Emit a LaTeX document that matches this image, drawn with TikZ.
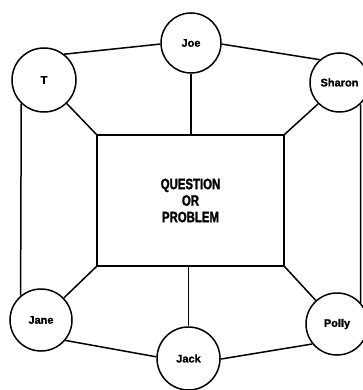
\documentclass[tikz,border=0pt]{standalone}
\usepackage{fontspec}
\setmainfont{Liberation Sans}
\newfontfamily\namefont[FakeBold=1.2]{Liberation Sans Bold}
\newfontfamily\condfont[FakeStretch=0.76,FakeBold=1.5]{Liberation Sans Bold}
\begin{document}
\begin{tikzpicture}[x=1pt,y=-1pt,
  person/.style={circle,draw,line width=1.5pt,inner sep=0pt,font=\namefont\fontsize{11}{12}\selectfont},
  link/.style={line width=1.5pt}]
\useasboundingbox (0,0) rectangle (363,390);
\node[draw,line width=1.5pt,minimum width=187pt,minimum height=131pt,inner sep=0pt,
  align=center,font=\condfont\fontsize{15}{16.5}\selectfont] (Q) at (190.5,200.5)
  {QUESTION\\OR\\PROBLEM};
\node[person,minimum size=64pt] (T) at (44,80) {T};
\node[person,minimum size=60pt] (Joe) at (191,43) {Joe};
\node[person,minimum size=59pt] (Sharon) at (339.5,82.5) {Sharon};
\node[person,minimum size=62pt] (Jane) at (41,320) {Jane};
\node[person,minimum size=63pt] (Jack) at (188.5,358.5) {Jack};
\node[person,minimum size=62pt] (Polly) at (337,324) {Polly};
\draw[link] (T.52) -- (Joe.182);
\draw[link] (Joe.-2) -- (Sharon.131);
\draw[link] (Joe.south) -- (Joe.south |- Q.north);
\draw[link] (T.-46) -- (Q.north west);
\draw[link] (Sharon.225) -- (Q.north east);
\draw[link] (T.226) -- (Jane.130);
\draw[link] (Sharon.-46) -- (Polly.42);
\draw[link] (Q.south west) -- (Jane.44);
\draw[link] (Jack.north |- Q.south) -- (Jack.north);
\draw[link] (Q.south east) -- (Polly.132);
\draw[link] (Jane.-40) -- (Jack.177);
\draw[link] (Jack.-1) -- (Polly.219);
\end{tikzpicture}
\end{document}
